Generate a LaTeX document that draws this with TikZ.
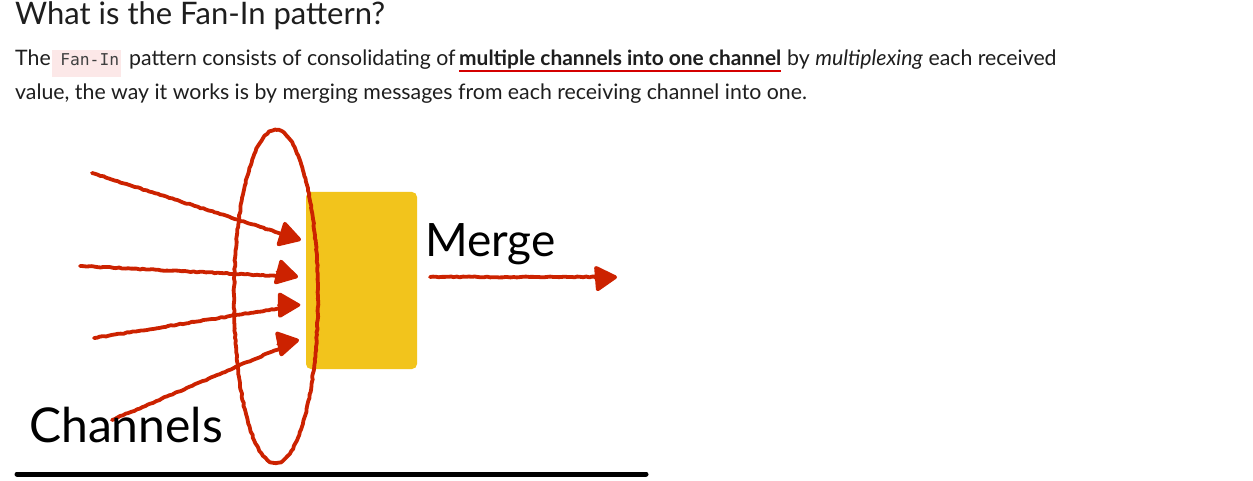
\documentclass[tikz,border=0pt]{standalone}
\usepackage{fontspec}
\setmainfont{Lato}
\setmonofont{DejaVu Sans Mono}
\usetikzlibrary{arrows.meta,decorations.pathmorphing}
\definecolor{penred}{HTML}{CC2200}
\definecolor{boxyellow}{HTML}{F2C41C}
\definecolor{codebg}{HTML}{FCE8E8}
\definecolor{ink}{HTML}{1E1E1E}
\definecolor{ulred}{HTML}{D40000}
\tikzset{
  txt/.style={inner sep=0pt, anchor=base west, text=ink, font=\fontsize{21.3}{24}\selectfont},
  ttl/.style={inner sep=0pt, anchor=base west, text=ink, font=\fontsize{31}{34}\selectfont},
  codebox/.style={inner sep=0pt, anchor=base west, fill=codebg, text=ink!85, minimum height=27pt, text depth=6pt, font=\ttfamily\fontsize{16.3}{20}\selectfont},
  pen/.style={draw=penred, line width=3.8pt, line cap=round, line join=round,
    decoration={random steps, segment length=3pt, amplitude=0.5pt}, decorate},
  penarrow/.style={pen, -{Triangle[length=24pt,width=27pt,round]}},
  diag/.style={inner sep=0pt, anchor=base west, text=black},
}
\begin{document}
\begin{tikzpicture}[x=1pt,y=-1pt]
\useasboundingbox (0,0) rectangle (1253,481);
\fill[white] (0,0) rectangle (1253,481);
% heading and text
\node[ttl] (title) at (15,25) {What is the Fan-In pattern?};
\node[txt] (the) at (15,66) {The};
\node[codebox, minimum width=69pt] (code) at (52,66) {\hspace*{6pt}Fan-In};
\node[txt] (t2) at (129,66) {pattern consists of consolidating of};
\node[txt, font=\bfseries\fontsize{20.9}{24}\selectfont] (bold) at (459,66) {multiple channels into one channel};
\draw[ulred, line width=1.3pt] ([yshift=-5pt]bold.base west) -- ([yshift=-5pt]bold.base east);
\node[txt] (t3) at (787,66) {by \emph{multiplexing} each received};
\node[txt] (line2) at (15,100) {value, the way it works is by merging messages from each receiving channel into one.};
% diagram
\node[fill=boxyellow, rounded corners=5pt, minimum width=111pt, minimum height=177pt, inner sep=0pt] (box) at (361.5,280.5) {};
\draw[pen] (276,130) .. controls (300,130) and (318,210) .. (318,296)
  .. controls (318,390) and (298,463) .. (276,463)
  .. controls (252,463) and (234,390) .. (234,296)
  .. controls (234,210) and (252,130) .. (276,130) -- cycle;
\coordinate (s1) at (92,173);
\coordinate (e1) at (301,240);
\coordinate (s2) at (80,266);
\coordinate (e2) at (298,277);
\coordinate (s3) at (94,338);
\coordinate (e3) at (300,305);
\coordinate (s4) at (112,420);
\coordinate (e4) at (299,340);
\coordinate (m1) at (430,277);
\coordinate (m2) at (617,277);
\draw[penarrow] (s1) -- (e1);
\draw[penarrow] (s2) -- (e2);
\draw[penarrow] (s3) -- (e3);
\draw[penarrow] (s4) -- (e4);
\draw[penarrow] (m1) -- (m2);
\node[diag, font=\fontsize{46}{48}\selectfont] (merge) at (425,256) {Merge};
\node[diag, font=\fontsize{48}{50}\selectfont] (chan) at (29,442) {Channels};
\coordinate (b1) at (17,474);
\coordinate (b2) at (646,474);
\draw[black, line width=5pt, line cap=round] (b1) -- (b2);
\end{tikzpicture}
\end{document}
